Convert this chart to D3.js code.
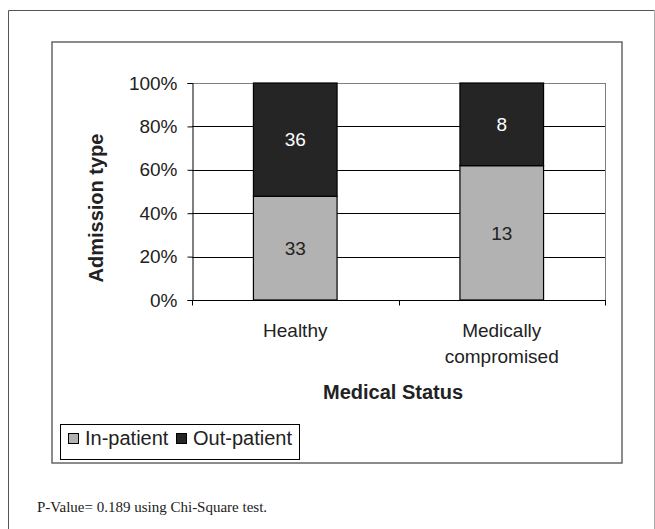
<!DOCTYPE html>
<html>
<head>
<meta charset="utf-8">
<script src="https://cdn.jsdelivr.net/npm/d3@7"></script>
<style>
  html, body { margin: 0; padding: 0; background: #fff; }
  svg { display: block; }
  .sans { font-family: "Liberation Sans", Arial, sans-serif; }
  .serif { font-family: "Liberation Serif", "Times New Roman", serif; }
</style>
</head>
<body>
<svg id="chart" width="655" height="529"></svg>
<script>
// Admission type by medical status (counts, shown as 100% stacked bars)
const categories = ["Healthy", "Medically compromised"];
const categoryLines = [["Healthy"], ["Medically", "compromised"]];
const seriesNames = ["In-patient", "Out-patient"];
const inPatient = [33, 13];
const outPatient = [36, 8];
const yTicks = [0, 0.2, 0.4, 0.6, 0.8, 1.0];
const colors = ["#b2b2b2", "#252525"];
const labelColors = ["#222222", "#ffffff"];

const svg = d3.select("#chart");

// outer page frame
svg.append("line").attr("x1", 8.5).attr("x2", 654.5).attr("y1", 10.5).attr("y2", 10.5).attr("stroke", "#555");
svg.append("line").attr("x1", 8.5).attr("x2", 8.5).attr("y1", 10.5).attr("y2", 529).attr("stroke", "#555");
svg.append("line").attr("x1", 654.5).attr("x2", 654.5).attr("y1", 10.5).attr("y2", 529).attr("stroke", "#aaa");

// chart frame
svg.append("rect").attr("x", 52).attr("y", 42).attr("width", 570).attr("height", 421)
  .attr("fill", "#fff").attr("stroke", "#666").attr("stroke-width", 1.5);

const plot = { left: 192, right: 605, top: 83, bottom: 300 };

const x = d3.scaleBand().domain(categories).range([plot.left, plot.right]).padding(0);
const y = d3.scaleLinear().domain([0, 1]).range([plot.bottom, plot.top]);

const rows = categories.map((c, i) => ({ cat: c, "In-patient": inPatient[i], "Out-patient": outPatient[i] }));
const stacked = d3.stack().keys(seriesNames).offset(d3.stackOffsetExpand)(rows);

// gridlines
const g = svg.append("g");
g.selectAll("line.grid").data(yTicks.slice(1)).join("line")
  .attr("x1", plot.left).attr("x2", plot.right)
  .attr("y1", d => Math.round(y(d)) + 0.5).attr("y2", d => Math.round(y(d)) + 0.5)
  .attr("stroke", d => d === 1 ? "#808080" : "#000").attr("stroke-width", 1);
// right border of plot area
g.append("line").attr("x1", plot.right + 0.5).attr("x2", plot.right + 0.5)
  .attr("y1", plot.top).attr("y2", plot.bottom).attr("stroke", "#808080");

// bars
const barW = x.bandwidth() * 0.405;
stacked.forEach((s, si) => {
  const grp = svg.append("g");
  grp.selectAll("rect").data(s).join("rect")
    .attr("x", d => x(d.data.cat) + (x.bandwidth() - barW) / 2)
    .attr("y", d => y(d[1]))
    .attr("width", barW)
    .attr("height", d => y(d[0]) - y(d[1]))
    .attr("fill", colors[si])
    .attr("stroke", "#000").attr("stroke-width", 1.2);
  grp.selectAll("text").data(s).join("text")
    .attr("class", "sans")
    .attr("x", d => x(d.data.cat) + x.bandwidth() / 2)
    .attr("y", d => (y(d[0]) + y(d[1])) / 2)
    .attr("dy", "0.36em")
    .attr("text-anchor", "middle")
    .attr("font-size", 19)
    .attr("fill", labelColors[si])
    .text(d => d.data[seriesNames[si]]);
});

// y axis
const yAxis = d3.axisLeft(y).tickValues(yTicks).tickFormat(d3.format(".0%")).tickSize(5).tickPadding(10);
const ya = svg.append("g").attr("transform", `translate(${plot.left + 0.5},0)`).call(yAxis);
ya.attr("font-family", null).attr("font-size", null);
ya.select(".domain").attr("stroke", "#000");
ya.selectAll(".tick line").attr("stroke", "#000");
ya.selectAll(".tick text").attr("class", "sans").attr("font-size", 19).attr("fill", "#222");

// x axis
const xa = svg.append("g").attr("transform", `translate(0,${plot.bottom + 0.5})`);
xa.append("line").attr("x1", plot.left).attr("x2", plot.right + 1).attr("stroke", "#000").attr("stroke-width", 1.2);
const xEdges = [plot.left, ...categories.map(c => x(c) + x.bandwidth())];
xa.selectAll("line.tick").data(xEdges).join("line")
  .attr("x1", d => Math.round(d) + 0.5).attr("x2", d => Math.round(d) + 0.5)
  .attr("y1", 0).attr("y2", 5).attr("stroke", "#000");
categories.forEach((c, i) => {
  const t = xa.append("text").attr("class", "sans").attr("text-anchor", "middle")
    .attr("font-size", 19).attr("fill", "#222");
  categoryLines[i].forEach((ln, j) => {
    t.append("tspan").attr("x", x(c) + x.bandwidth() / 2).attr("y", 36 + j * 26.5).text(ln);
  });
});

// axis titles
svg.append("text").attr("class", "sans").attr("x", 393).attr("y", 399).attr("text-anchor", "middle")
  .attr("font-size", 20).attr("font-weight", "bold").attr("fill", "#222").text("Medical Status");
svg.append("text").attr("class", "sans").attr("transform", "translate(103,208) rotate(-90)")
  .attr("text-anchor", "middle")
  .attr("font-size", 20).attr("font-weight", "bold").attr("fill", "#222").text("Admission type");

// legend
const lg = svg.append("g");
lg.append("rect").attr("x", 60.5).attr("y", 424.5).attr("width", 239).attr("height", 35)
  .attr("fill", "#fff").attr("stroke", "#000");
const legendX = [68, 176];
seriesNames.forEach((n, i) => {
  lg.append("rect").attr("x", legendX[i] + 0.5).attr("y", 433.5).attr("width", 10).attr("height", 10)
    .attr("fill", colors[i]).attr("stroke", "#000");
  lg.append("text").attr("class", "sans").attr("x", legendX[i] + 17).attr("y", 445)
    .attr("font-size", 20).attr("fill", "#222").text(n);
});

// footnote
svg.append("text").attr("class", "serif").attr("x", 37).attr("y", 512).attr("font-size", 15)
  .attr("fill", "#222")
  .text("P-Value= 0.189 using Chi-Square test.");
</script>
</body>
</html>
